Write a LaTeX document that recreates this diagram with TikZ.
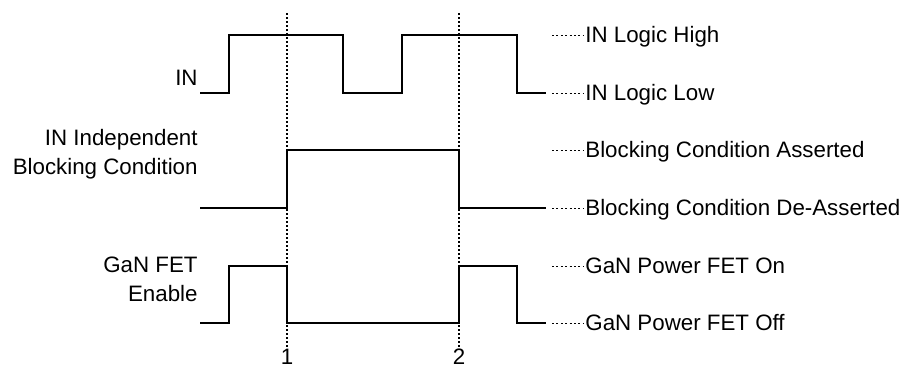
\documentclass[tikz,border=0pt]{standalone}
\usepackage{fontspec}
\setmainfont{Liberation Sans}
\usetikzlibrary{positioning}
\begin{document}
\begin{tikzpicture}[x=0.5bp,y=0.5bp,font=\fontsize{11.2}{14.5}\selectfont,
	wave/.style={line width=1bp},
	marker/.style={line width=0.6bp,dash pattern=on 1.2bp off 0.8bp},
	leader/.style={line width=0.5bp,dash pattern=on 1bp off 1.2bp},
	lvl/.style={anchor=west,inner sep=1bp,text height=0.716em,text depth=0pt},
	sig/.style={anchor=east,align=right,inner sep=1bp,text height=0.716em,text depth=0pt}]
	\useasboundingbox (0,0) rectangle (904,367);
	% draw the time markers
	\foreach \x/\n in {287/1,459/2}{\node[anchor=north,inner sep=0pt,text depth=0pt] (t\n) at (\x,18) {\n};
		\coordinate (m\n) at (\x,354);
		\draw[marker] (m\n) -- (t\n.north);}
	% draw the signal names
	\node[sig] (in) at (200,289) {IN};
	\node[sig] (blk) at (200,199.5) {IN Independent\\Blocking Condition};
	\node[sig] (gan) at (200,73) {GaN FET\\Enable};
	% draw the waveforms
	\draw[wave] (200,274) -- (229,274) -- (229,332) -- (343,332) -- (343,274) -- (402,274) -- (402,332) -- (517,332) -- (517,274) -- (546,274);
	\draw[wave] (200,159) -- (287,159) -- (287,217) -- (459,217) -- (459,159) -- (546,159);
	\draw[wave] (200,44) -- (229,44) -- (229,101) -- (287,101) -- (287,44) -- (459,44) -- (459,101) -- (517,101) -- (517,44) -- (546,44);
	% draw the levels
	\foreach \y/\t/\n in {332/IN Logic High/inh,274/IN Logic Low/inl,217/Blocking Condition Asserted/bka,159/Blocking Condition De-Asserted/bkd,101/GaN Power FET On/gon,44/GaN Power FET Off/gof}{
		\coordinate (\n l) at (552,\y);
		\node[lvl] (\n) at (583,\y) {\t};
		\draw[leader] (\n l) -- (\n.west);}
\end{tikzpicture}
\end{document}
